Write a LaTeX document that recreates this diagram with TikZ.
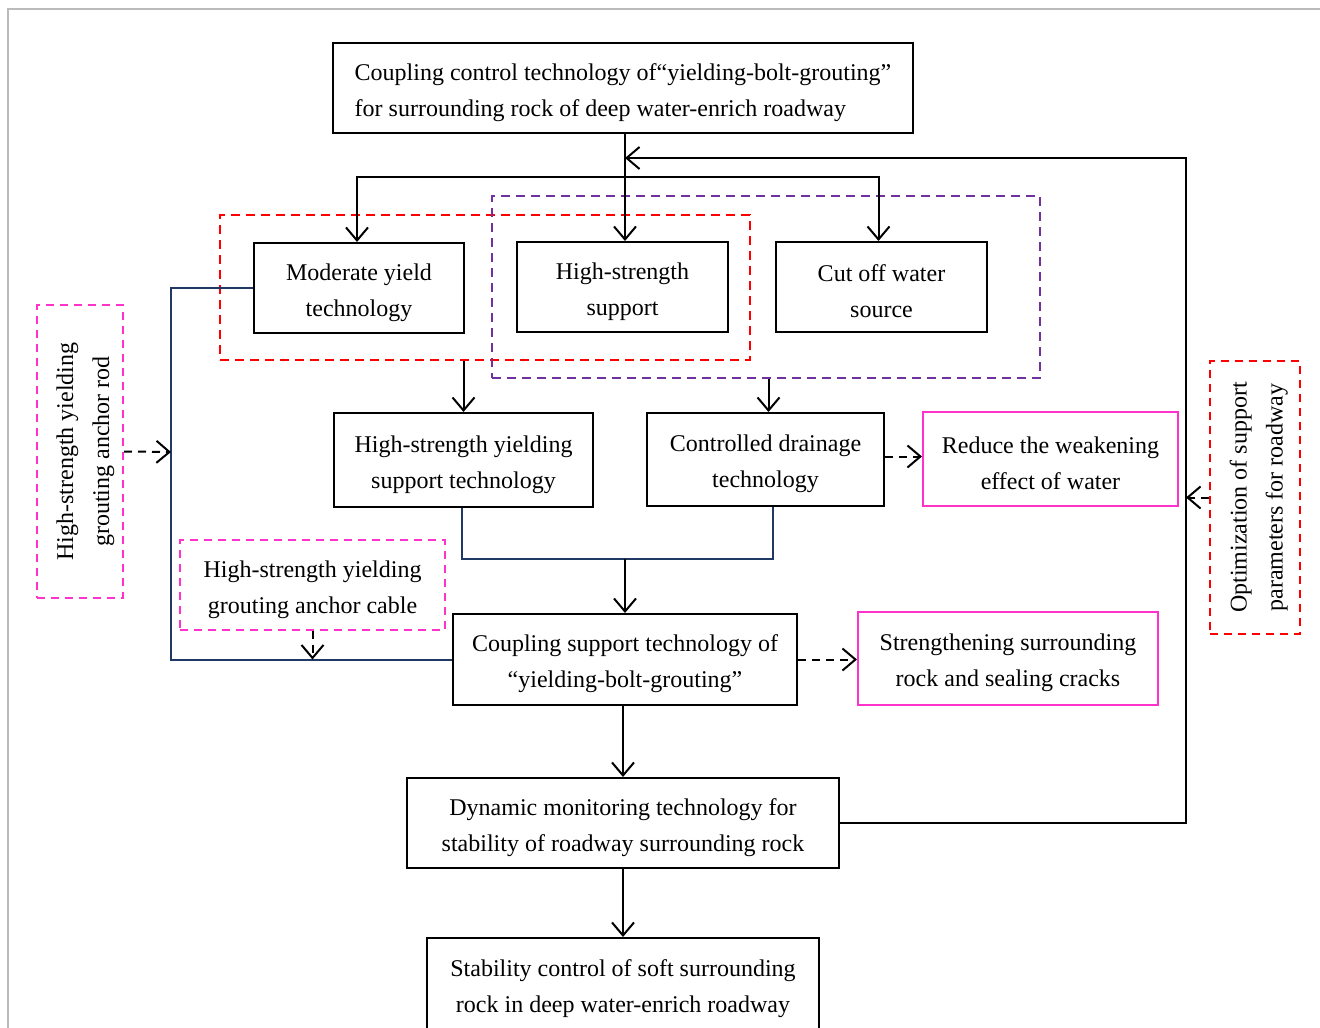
\documentclass[tikz,border=0pt]{standalone}
\usepackage{fontspec}
\setmainfont{Liberation Serif}
\usetikzlibrary{arrows.meta,calc}
\definecolor{gred}{HTML}{FF0000}
\definecolor{gpur}{HTML}{7030A0}
\definecolor{gmag}{HTML}{FF33CC}
\definecolor{gnavy}{HTML}{1F3864}
\definecolor{gframe}{HTML}{BBBBBB}
\newcommand{\tup}{\rule{0pt}{26pt}}
\tikzset{
  box/.style={draw=black, line width=2pt, fill=white, align=center, inner sep=0pt,
    font=\fontsize{24}{36}\selectfont},
  magbox/.style={box, draw=gmag},
  magdash/.style={box, draw=gmag, dash pattern=on 8pt off 6pt},
  reddash/.style={box, draw=gred, dash pattern=on 8pt off 6pt},
  grp/.style={draw, line width=2pt, dash pattern=on 9pt off 6pt, inner sep=0pt},
  arr/.style={draw=black, line width=2pt, -{Straight Barb[length=13pt,width=22pt]}},
  darr/.style={arr, dash pattern=on 8pt off 6pt},
  navyline/.style={draw=gnavy, line width=2pt},
}
\begin{document}
\begin{tikzpicture}[x=1pt,y=-1pt]
\useasboundingbox (0,0) rectangle (1320,1028);
\clip (0,0) rectangle (1320,1028);
\draw[gframe, line width=1.5pt] (8,1028) -- (8,9) -- (1320,9);

% groups
\node[grp, draw=gred, minimum width=530, minimum height=145] (gR) at (485,287.5) {};
\node[grp, draw=gpur, minimum width=548, minimum height=182] (gP) at (766,287) {};

% nodes
\node[box, minimum width=580, minimum height=90, align=left] (top) at (623,88)
  {\tup Coupling control technology of“yielding-bolt-grouting”\\for surrounding rock of deep water-enrich roadway\hspace*{4pt}};
\node[box, minimum width=210, minimum height=90] (mod) at (359,288) {\tup Moderate yield\\technology};
\node[box, minimum width=211, minimum height=90] (hss) at (622.5,287) {\tup High-strength\\support};
\node[box, minimum width=211, minimum height=90] (cut) at (881.5,287) {\tup Cut off water\\source};
\node[box, minimum width=259, minimum height=94] (hsy) at (463.5,460) {\tup High-strength yielding\\support technology};
\node[box, minimum width=237, minimum height=93] (cdt) at (765.5,459.5) {\tup Controlled drainage\\technology};
\node[magbox, minimum width=255, minimum height=94] (red) at (1050.5,459) {\tup Reduce the weakening\\effect of water};
\node[magdash, minimum width=265, minimum height=90] (cab) at (312.5,585) {\tup High-strength yielding\\grouting anchor cable};
\node[box, minimum width=344, minimum height=91] (cst) at (625,659.5) {\tup Coupling support technology of\\“yielding-bolt-grouting”};
\node[magbox, minimum width=300, minimum height=93] (str) at (1008,658.5) {\tup Strengthening surrounding\\rock and sealing cracks};
\node[box, minimum width=432, minimum height=90] (dyn) at (623,823) {\tup Dynamic monitoring technology for\\stability of roadway surrounding rock};
\node[box, minimum width=392, minimum height=92] (stab) at (623,984) {\tup Stability control of soft surrounding\\rock in deep water-enrich roadway};
\node[magdash, minimum width=86, minimum height=293] (rod) at (80,451.5)
  {\rotatebox{90}{\begin{tabular}{@{}c@{}}\rule{0pt}{33pt}High-strength yielding\\grouting anchor rod\end{tabular}}};
\node[reddash, minimum width=90, minimum height=273] (opt) at (1255,497.5)
  {\rotatebox{90}{\begin{tabular}{@{}c@{}}\rule{0pt}{30pt}Optimization of support\\parameters for roadway\end{tabular}}};

% helper coordinates
\coordinate (sp) at (625,177);
\coordinate (fbin) at (625,158);
\coordinate (fbc) at (1186,158);
\coordinate (lj) at (171,452);
\coordinate (mj) at (625,559);

% connectors
\draw[arr] (top.south -| sp) -- (sp |- hss.north);
\draw[arr] (sp) -| ($(mod.north)+(-2,0)$);
\draw[arr] (sp) -| ($(cut.north)+(-3,0)$);
\draw[arr] (dyn.east) -| (fbc) -- (fbin);
\draw[darr] (opt.west) -- (opt.west -| fbc);
\draw[arr] (gR.south -| hsy.north) -- (hsy.north);
\draw[arr] ($(gP.south -| cdt.north)+(3,0)$) -- ($(cdt.north)+(3,0)$);
\draw[navyline] ($(hsy.south)+(-1.5,0)$) |- (mj) -| ($(cdt.south)+(7,0)$);
\draw[arr] (mj) -- (mj |- cst.north);
\draw[navyline] (mod.west) -| (lj) |- (cst.west);
\draw[darr] (rod.east) -- (lj);
\draw[darr] (cab.south) -- (cab.south |- cst.west);
\draw[darr] ($(cdt.east)+(0,-3)$) -- ($(cdt.east -| red.west)+(0,-3)$);
\draw[darr] (cst.east) -- (cst.east -| str.west);
\draw[arr] (cst.south -| dyn.north) -- (dyn.north);
\draw[arr] (dyn.south) -- (stab.north);
\end{tikzpicture}
\end{document}
